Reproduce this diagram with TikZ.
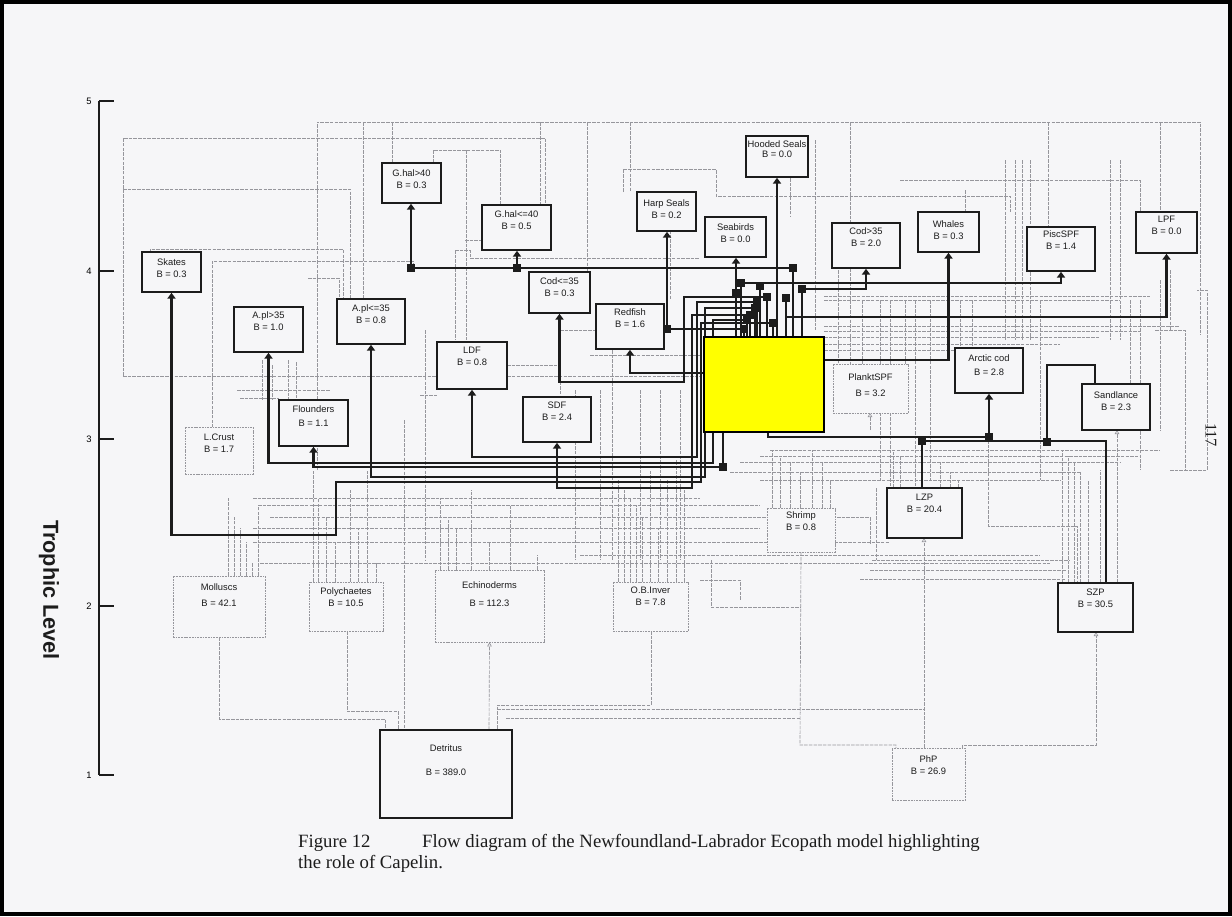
\documentclass[tikz,border=0pt]{standalone}
\usepackage{fontspec}
\setmainfont{Liberation Serif}
\setsansfont{Liberation Sans}
\usetikzlibrary{arrows.meta}
\definecolor{pagebg}{RGB}{246,246,248}
\definecolor{gline}{RGB}{150,150,156}
\definecolor{flowc}{RGB}{28,28,28}
\definecolor{capy}{RGB}{255,255,0}
\pgfdeclarelayer{back}
\pgfsetlayers{back,main}
% style, name, x1, y1, x2, y2, text, text centre y
\newcommand\bxnode[8]{%
  \pgfmathsetmacro\bxwd{(#5-#3)*0.03}%
  \pgfmathsetmacro\bxht{(#6-#4)*0.03}%
  \node[#1, minimum width=\bxwd cm, minimum height=\bxht cm] (#2) at ({(#3+#5)/2},{(#4+#6)/2}) {};
  \node[lbl] (#2-t) at ({(#3+#5)/2},#8) {#7};}
\begin{document}
\begin{tikzpicture}[x=0.03cm,y=-0.03cm,
  bx/.style={draw=flowc, line width=1.4pt, fill=pagebg, inner sep=0pt, rectangle},
  gbx/.style={draw=gline, line width=0.6pt, dash pattern=on 1.5pt off 0.8pt, fill=pagebg, inner sep=0pt, rectangle},
  lbl/.style={font=\sffamily\fontsize{8}{10}\selectfont, align=center, inner sep=0pt, text=flowc},
  flow/.style={draw=flowc, line width=1.9pt},
  arr/.style={flow, -{Triangle[width=7pt,length=5pt]}},
  gr/.style={draw=gline, line width=0.55pt, dash pattern=on 3pt off 1pt},
  garr/.style={gr, -{Triangle[width=4pt,length=3.5pt,open]}},
  sq/.style={fill=flowc, minimum size=6.5pt, inner sep=0pt, rectangle},
  axlbl/.style={font=\sffamily\fontsize{8}{9}\selectfont, inner sep=0pt}]
\useasboundingbox (0,0) rectangle (1232,916);

% ---------------- page frame, axis ----------------
\draw[line width=3.2pt, draw=black] (2,2) rectangle (1230,914);
\draw[line width=1.2pt, draw=flowc] (99,101) -- (99,775);
\foreach \y/\t in {101/5, 271/4, 439/3, 606/2, 775/1}{
  \draw[line width=1.2pt, draw=flowc] (99,\y) -- (114,\y);
  \node[axlbl] (tick\t) at (89,\y) {\t};}
\node[rotate=-90, font=\sffamily\bfseries\fontsize{18.5}{20}\selectfont, text=flowc] (ytitle) at (49,590) {Trophic Level};
\node[rotate=-90, font=\fontsize{14}{16}\selectfont, text=flowc] (pagenum) at (1211,435) {117};

% ---------------- groups ----------------
\bxnode{bx}{skates}{142}{252}{201}{292}{Skates\\B = 0.3}{268}
\bxnode{bx}{ghalA}{382}{163}{441}{203}{G.hal>40\\B = 0.3}{179}
\bxnode{bx}{ghalB}{482}{205}{551}{250}{G.hal<=40\\B = 0.5}{220}
\bxnode{bx}{aplA}{234}{307}{303}{352}{A.pl>35\\B = 1.0}{321}
\bxnode{bx}{aplB}{337}{299}{405}{344}{A.pl<=35\\B = 0.8}{314}
\bxnode{bx}{ldf}{437}{342}{507}{389}{LDF\\B = 0.8}{356}
\bxnode{bx}{codA}{529}{272}{590}{313}{Cod<=35\\B = 0.3}{287}
\bxnode{bx}{harp}{637}{192}{696}{231}{Harp Seals\\B = 0.2}{209}
\bxnode{bx}{seabirds}{705}{217}{766}{257}{Seabirds\\B = 0.0}{233}
\bxnode{bx}{hooded}{746}{136}{808}{177}{Hooded Seals\\[-1pt]B = 0.0}{149}
\bxnode{bx}{redfish}{596}{304}{664}{349}{Redfish\\B = 1.6}{318}
\bxnode{bx}{sdf}{523}{397}{591}{442}{SDF\\B = 2.4}{411}
\bxnode{bx}{codB}{832}{223}{900}{268}{Cod>35\\B = 2.0}{237}
\bxnode{bx}{whales}{918}{212}{979}{252}{Whales\\B = 0.3}{230}
\bxnode{bx}{pisc}{1027}{227}{1095}{271}{PiscSPF\\B = 1.4}{240}
\bxnode{bx}{lpf}{1136}{212}{1197}{253}{LPF\\B = 0.0}{225}
\bxnode{gbx}{plankt}{833}{364}{908}{413}{PlanktSPF\\[4pt]B = 3.2}{385}
\bxnode{bx}{arctic}{955}{348}{1023}{393}{Arctic cod\\[2pt]B = 2.8}{365}
\bxnode{bx}{sand}{1082}{384}{1150}{430}{Sandlance\\B = 2.3}{401}
\bxnode{bx}{lzp}{887}{488}{962}{538}{LZP\\B = 20.4}{503}
\bxnode{bx}{szp}{1058}{583}{1133}{632}{SZP\\B = 30.5}{598}
\bxnode{gbx}{shrimp}{767}{508}{835}{552}{Shrimp\\B = 0.8}{521}
\bxnode{gbx}{echino}{435}{570}{544}{642}{Echinoderms\\[5pt]B = 112.3}{594}
\bxnode{gbx}{obinv}{613}{582}{688}{631}{O.B.Inver\\B = 7.8}{596}
\bxnode{bx}{flounders}{279}{400}{348}{446}{Flounders\\[2pt]B = 1.1}{416}
\bxnode{gbx}{lcrust}{185}{427}{253}{474}{L.Crust\\B = 1.7}{443}
\bxnode{gbx}{molluscs}{173}{576}{265}{637}{Molluscs\\[3pt]B = 42.1}{595}
\bxnode{gbx}{poly}{309}{582}{383}{631}{Polychaetes\\B = 10.5}{597}
\bxnode{bx}{detritus}{380}{730}{512}{818}{Detritus\\[10pt]B = 389.0}{760}
\bxnode{gbx}{php}{892}{748}{965}{800}{PhP\\B = 26.9}{765}

% capelin box (drawn at the end, over the bundle)
\node[minimum width=3.6cm, minimum height=2.85cm, inner sep=0pt] (capelin) at (764,384.5) {};

% ---------------- background texture (grey flows) ----------------
\begin{pgfonlayer}{back}
\fill[pagebg] (0,0) rectangle (1232,916);
\draw[gr] (317,470) -- (317,122) -- (1200,122) -- (1200,335);
\foreach \x/\y in {363/299, 392/163, 540/205, 587/272, 630/192, 850/223, 1048/227, 1160/212}
  \draw[gr] (\x,122) -- (\x,\y);
\draw[gr] (123,376) -- (123,138) -- (545,138) -- (545,205);
\draw[gr] (123,189) -- (350,189) -- (350,299);
\draw[gr] (150,252) -- (150,249) -- (343,249) -- (343,299);
\draw[gr] (212,470) -- (212,261) -- (413,261) -- (413,268);
\draw[gr] (123,376) -- (700,376);
\draw[gr] (308,278) -- (339,278) -- (339,299);
\draw[gr] (433,163) -- (433,150) -- (500,150) -- (500,205);
\draw[gr] (623,192) -- (623,169) -- (716,169) -- (716,196) -- (1010,196) -- (1010,212);
\draw[gr] (900,180) -- (1140,180) -- (1140,212);
\draw[gr] (965,190) -- (965,212);
\draw[gr] (790,150) -- (790,217);
\draw[gr] (815,140) -- (815,330);
\draw[gr] (1170,470) -- (1207,470) -- (1207,290) -- (1197,290);
\draw[gr] (1155,330) -- (1185,330) -- (1185,470);
\foreach \x in {1005,1015,1022,1030,1110,1120}
  \draw[gr] (\x,160) -- (\x,340);
\foreach \x/\a/\b in {425/330/560, 466/150/340, 455/250/340, 560/330/397, 575/390/560, 600/390/560, 612/350/560, 640/390/560, 660/390/560, 670/230/300, 680/390/560, 404/420/730, 262/360/400, 272/365/400, 288/360/400, 296/362/400}
  \draw[gr] (\x,\a) -- (\x,\b);
\draw[gr] (237,390) -- (330,390);
\draw[gr] (240,398) -- (279,398);
\draw[gr] (560,330) -- (596,330);
\draw[gr] (590,355) -- (700,355);
\draw[gr] (420,395) -- (437,395);
\draw[gr] (507,365) -- (560,365);
\draw[gr] (465,240) -- (482,240);
\draw[gr] (455,250) -- (470,250) -- (470,258) -- (700,258);
\foreach \y/\a/\b in {296/824/1150, 300/824/1120, 326/824/1180, 331/824/1140, 337/824/1100, 344/824/1060, 350/824/1000}
  \draw[gr] (\a,\y) -- (\b,\y);
\foreach \x/\a/\b in {838/270/364, 850/268/364, 862/300/364, 880/300/480, 890/300/488, 905/300/364, 915/300/488, 930/300/480, 960/300/348, 972/300/348, 1040/300/480, 1130/300/384, 1140/300/470, 1160/280/430, 1170/270/330}
  \draw[gr] (\x,\a) -- (\x,\b);
\foreach \y/\a/\b in {450/770/1160, 456/760/1140, 462/740/1120, 472/730/1080, 480/760/1060}
  \draw[gr] (\a,\y) -- (\b,\y);
\foreach \y/\a/\b in {498/253/700, 505/258/760, 517/270/870, 528/253/760, 542/253/890, 555/580/1040, 563/260/1050}
  \draw[gr] (\a,\y) -- (\b,\y);
\draw[gr] (870,517) -- (870,545);
\foreach \x/\y in {228/498, 234/517, 240/528, 246/542, 252/563, 258/505}
  \draw[gr] (\x,576) -- (\x,\y);
\foreach \x/\y in {318/498, 326/517, 335/542, 350/490, 358/528, 367/470, 376/563}
  \draw[gr] (\x,582) -- (\x,\y);
\draw[gr] (313,582) -- (313,470);
\foreach \x/\y in {440/498, 448/517, 456/528, 471/490, 489/542, 510/505, 537/555}
  \draw[gr] (\x,570) -- (\x,\y);
\foreach \x/\y in {618/480, 624/490, 630/498, 636/505, 642/517, 650/470, 658/528, 667/480, 676/460, 684/490}
  \draw[gr] (\x,582) -- (\x,\y);
\foreach \x/\y in {772/450, 780/456, 790/462, 800/472, 812/450, 822/462, 830/480}
  \draw[gr] (\x,508) -- (\x,\y);
\foreach \x/\y in {1062/450, 1068/456, 1074/462, 1080/472, 1088/480, 1100/470}
  \draw[gr] (\x,583) -- (\x,\y);
\foreach \x/\y in {893/450, 900/456, 940/462, 950/472, 958/480}
  \draw[gr] (\x,488) -- (\x,\y);
\draw[gr] (988,440) -- (988,526) -- (1077,526) -- (1077,583);
\draw[gr] (872,560) -- (1070,560);
\draw[gr] (870,570) -- (1066,570);
\draw[gr] (860,579) -- (1066,579);
\draw[gr] (876,488) -- (876,560);
\draw[gr] (711,560) -- (711,607) -- (800,607);
\draw[gr] (700,580) -- (740,580) -- (740,600);
% bottom: detritus and PhP
\draw[gr] (molluscs.south) -- (219,719) -- (385,719) -- (385,730);
\draw[gr] (347,631) -- (347,711) -- (398,711) -- (398,730);
\draw[garr] (489,730) -- (echino.south);
\draw[gr] (651,631) -- (651,705) -- (497,705) -- (497,730);
\draw[gr] (497,709) -- (924,709);
\draw[gr] (506,718) -- (800,718);
\draw[garr] (924,748) -- (924,538);
\draw[gr] (shrimp.south) -- (800,745) -- (896,745) -- (896,748);
\draw[garr] (962,748) -- (962,745) -- (1096,745) -- (1096,632);
\draw[garr] (1117,583) -- (1117,430);
\draw[garr] (870,430) -- (870,413);
\end{pgfonlayer}

% ---------------- junction squares ----------------
\node[sq] (qA) at (411,268) {};
\node[sq] (qB) at (517,268) {};
\node[sq] (qC) at (793,268) {};
\node[sq] (qSea) at (736,293) {};
\node[sq] (qCod) at (767,297) {};
\node[sq] (qH) at (667,329) {};
\node[sq] (qH2) at (744,329) {};
\node[sq] (qP) at (741,283) {};
\node[sq] (qX) at (760,286) {};
\node[sq] (qM) at (802,289) {};
\node[sq] (qL) at (786,298) {};
\node[sq] (qLdf) at (757,302) {};
\node[sq] (qApB) at (755,308) {};
\node[sq] (qSdf) at (750,315) {};
\node[sq] (qApA) at (747,320) {};
\node[sq] (qSk) at (773,323) {};
\node[sq] (qF) at (723,467) {};
\node[sq] (qAC) at (989,437) {};
\node[sq] (qLZ) at (922,441) {};
\node[sq] (qSL) at (1047,442) {};

\foreach \q in {qC,qSea,qCod,qH2,qP,qX,qM,qL,qLdf,qApB,qSdf,qApA,qSk}
  \draw[flow] (\q.center) -- (\q.center |- capelin.north);

% ---------------- capelin flows ----------------
\draw[flow] (qA.center) -- (qC.center);
\draw[arr] (qA.center) -- (qA.center |- ghalA.south);
\draw[arr] (qB.center) -- (qB.center |- ghalB.south);
\draw[arr] (hooded.south |- capelin.north) -- (hooded.south);
\draw[arr] (qSea.center) -- (qSea.center |- seabirds.south);
\draw[arr] (qH.center) -- (qH.center |- harp.south);
\draw[flow] (qH.center) -- (qH2.center);
\draw[arr] (qCod.center) -- (684,297) -- (684,382) -| (codA.south);
\draw[arr] (capelin.west |- 0,373) -| (redfish.south);
\draw[arr] (qLdf.center) -- (697,302) -- (697,457) -| (ldf.south);
\draw[arr] (qSdf.center) -- (692,315) -- (692,488) -| (sdf.south);
\draw[arr] (qApA.center) -- (713,320) -- (713,463) -| (aplA.south);
\draw[arr] (qApB.center) -- (705,308) -- (705,477) -| (aplB.south);
\draw[arr] (qSk.center) -- (701,323) -- (701,482) -- (336,482) -- (336,535) -| (skates.south);
\draw[flow] (qF.center |- capelin.south) -- (qF.center);
\draw[arr] (qF.center) -| (flounders.south);
\draw[arr] (capelin.east |- 0,360) -| (whales.south);
\draw[arr] (qL.center) -- (786,317) -| (lpf.south);
\draw[arr] (qM.center) -| (codB.south);
\draw[arr] (qP.center) -| (pisc.south);
\draw[flow] (768,0 |- capelin.south) |- (qAC.center);
\draw[arr] (qAC.center) -- (qAC.center |- arctic.south);
\draw[flow] (qLZ.center) -- (qLZ.center |- lzp.north);
\draw[flow] (qLZ.center) -- (1106,441) -- (1106,0 |- szp.north);
\draw[flow] (qSL.center) -- (1047,365) -- (1095,365) -- (1095,0 |- sand.north);

\foreach \q in {qA,qB,qC,qSea,qCod,qH,qH2,qP,qX,qM,qL,qLdf,qApB,qSdf,qApA,qSk,qF,qAC,qLZ,qSL}
  \fill[flowc] ([shift={(-3.5,-3.5)}]\q.center) rectangle ([shift={(3.5,3.5)}]\q.center);

% the yellow capelin box
\draw[line width=1.4pt, draw=black, fill=capy] (capelin.south west) rectangle (capelin.north east);

% ---------------- caption ----------------
\node[anchor=base west, font=\fontsize{16}{19}\selectfont, inner sep=0pt, text=flowc] (capA) at (298,847) {Figure 12};
\node[anchor=base west, font=\fontsize{16}{19}\selectfont, inner sep=0pt, text=flowc] (capB) at (422,847) {Flow diagram of the Newfoundland-Labrador Ecopath model highlighting};
\node[anchor=base west, font=\fontsize{16}{19}\selectfont, inner sep=0pt, text=flowc] (capC) at (298,868) {the role of Capelin.};
\end{tikzpicture}
\end{document}
